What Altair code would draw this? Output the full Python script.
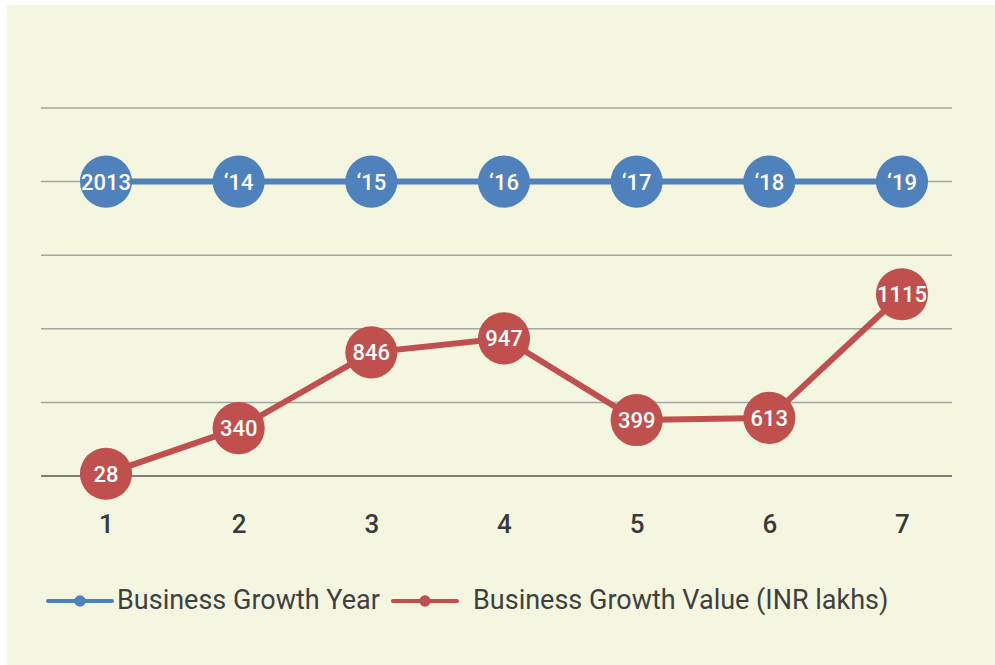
import altair as alt
import pandas as pd

# ---- data ----
x_pos = [1, 2, 3, 4, 5, 6, 7]
year_labels = ["2013", "\u201814", "\u201815", "\u201816", "\u201817", "\u201818", "\u201819"]
year_pos = [4.0, 4.0, 4.0, 4.0, 4.0, 4.0, 4.0]
value_labels = ["28", "340", "846", "947", "399", "613", "1115"]
value_pos = [0.03, 0.65, 1.68, 1.87, 0.76, 0.79, 2.47]
grid_levels = [0, 1, 2, 3, 4, 5]
series_names = ["Business Growth Year", "Business Growth Value (INR lakhs)"]
series_colors = ["#4f81bd", "#c0504d"]

rows = []
for x, lab, y in zip(x_pos, year_labels, year_pos):
    rows.append({"x": x, "y": y, "label": lab, "series": series_names[0]})
for x, lab, y in zip(x_pos, value_labels, value_pos):
    rows.append({"x": x, "y": y, "label": lab, "series": series_names[1]})
df = pd.DataFrame(rows)
grid_df = pd.DataFrame({"level": grid_levels})
strip_df = pd.DataFrame({"k": [0]})

W, H = 911, 368
L, T = 41, 108
FONT = "Roboto"
CREAM = "#f4f6df"

xs = alt.Scale(domain=[0.51, 7.377], nice=False, zero=False)
ys = alt.Scale(domain=[0, 5], nice=False, zero=False)
cs = alt.Scale(domain=series_names, range=series_colors)

x_enc = alt.X("x:Q", scale=xs, axis=alt.Axis(
    values=x_pos, format="d", title=None, domain=False, ticks=False, grid=False,
    labelFont=FONT, labelFontSize=26, labelColor="#3a3a3a", labelPadding=35,
    labelFontWeight=500))
y_enc = alt.Y("y:Q", scale=ys, axis=None)

# white margin strips (left and top) outside the cream panel
strip_left = alt.Chart(strip_df).mark_rect(color="white", clip=False).encode(
    x=alt.value(-L), x2=alt.value(7 - L), y=alt.value(-T), y2=alt.value(665 - T))
strip_top = alt.Chart(strip_df).mark_rect(color="white", clip=False).encode(
    x=alt.value(-L), x2=alt.value(995 - L), y=alt.value(-T), y2=alt.value(5 - T))

grid = alt.Chart(grid_df).mark_rule().encode(
    y=alt.Y("level:Q", scale=ys, axis=None),
    x=alt.value(0), x2=alt.value(W),
    color=alt.condition(alt.datum.level == 0, alt.value("#7f7f7f"), alt.value("#a5a5a5")),
    strokeWidth=alt.condition(alt.datum.level == 0, alt.value(2), alt.value(1.5)),
)

lines = alt.Chart(df).mark_line(strokeWidth=6).encode(
    x=x_enc, y=y_enc,
    color=alt.Color("series:N", scale=cs, legend=None),
    detail="series:N",
)

dots = alt.Chart(df).mark_circle(size=2715, opacity=1).encode(
    x=x_enc, y=y_enc,
    color=alt.Color("series:N", scale=cs, legend=None),
)

labels = alt.Chart(df).mark_text(
    color="white", font=FONT, fontSize=22, fontWeight=500,
    align="center", baseline="middle", dy=1).encode(
    x=x_enc, y=y_enc, text="label:N")

# legend (line + dot symbol, then label), laid out below the axis
legend_left = [48 - L, 393 - L]
legend_text_left = [117 - L, 473 - L]
legend_y = 601 - T
legend_layers = []
for name, col, lx, tx in zip(series_names, series_colors, legend_left, legend_text_left):
    item = alt.Chart(pd.DataFrame({"series": [name]}))
    legend_layers.append(item.mark_rule(strokeWidth=4, strokeCap="round", clip=False).encode(
        x=alt.value(lx), x2=alt.value(lx + 64), y=alt.value(legend_y),
        color=alt.value(col)))
    legend_layers.append(item.mark_circle(size=130, opacity=1, clip=False).encode(
        x=alt.value(lx + 32), y=alt.value(legend_y), color=alt.value(col)))
    legend_layers.append(item.mark_text(
        font=FONT, fontSize=27, color="#404040", align="left", baseline="middle",
        clip=False).encode(
        x=alt.value(tx), y=alt.value(legend_y), text="series:N"))

chart = alt.layer(strip_left, strip_top, grid, lines, dots, labels,
                  *legend_layers).properties(
    width=W, height=H,
    autosize=alt.AutoSizeParams(type="none"),
    padding={"left": L, "top": T, "right": 995 - L - W, "bottom": 665 - T - H},
    background=CREAM,
).configure_view(stroke=None)

chart.save("out.html", embed_options={"renderer": "svg", "actions": False})
